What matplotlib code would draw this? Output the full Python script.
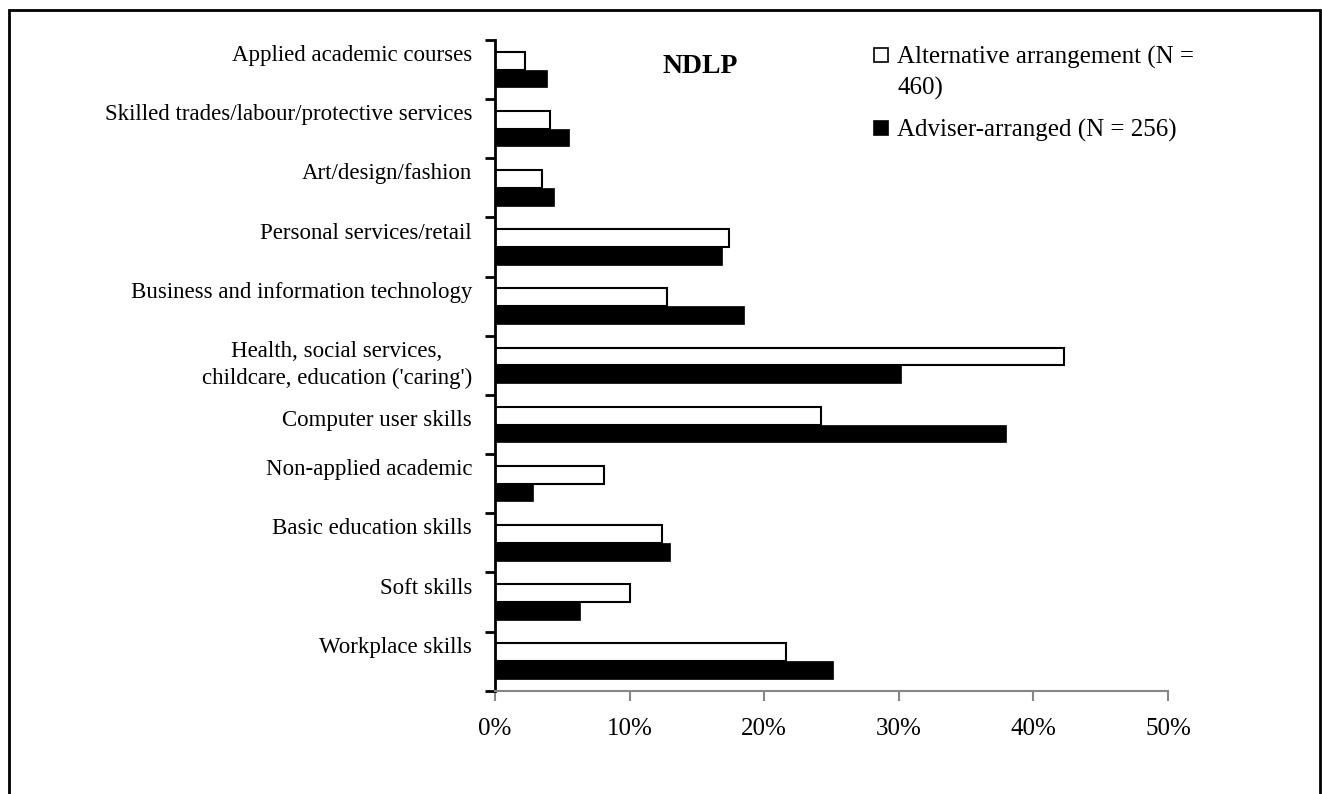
import matplotlib.pyplot as plt
import numpy as np
from matplotlib.patches import Rectangle

plt.rcParams['font.family'] = ['Liberation Serif', 'DejaVu Serif']

# bottom to top
categories = ["Workplace skills", "Soft skills", "Basic education skills",
              "Non-applied academic", "Computer user skills",
              "Health, social services,\nchildcare, education ('caring')",
              "Business and information technology", "Personal services/retail",
              "Art/design/fashion", "Skilled trades/labour/protective services",
              "Applied academic courses"]
alternative = [21.6, 10.0, 12.4, 8.1, 24.2, 42.3, 12.8, 17.4, 3.5, 4.1, 2.2]
adviser = [25.1, 6.3, 13.0, 2.8, 38.0, 30.2, 18.5, 16.9, 4.4, 5.5, 3.9]
xticks = [0, 10, 20, 30, 40, 50]
labels = ["Alternative arrangement (N =\n460)", "Adviser-arranged (N = 256)"]
label_shift = [10, 10, 10, 10, 3, 0, 10, 10, 10, 10, 10]  # points up from centre


def main():
    W, H = 1322, 794
    fig = plt.figure(figsize=(W / 100, H / 100), dpi=100)
    ax = fig.add_axes([495 / W, 1 - 690.7 / H, 673 / W, 650.7 / H])
    y = np.arange(len(categories))
    h = 0.3
    ax.barh(y + h / 2, alternative, height=h, color='white', edgecolor='black', linewidth=1.5)
    ax.barh(y - h / 2, adviser, height=h, color='black', edgecolor='black', linewidth=0.5)

    ax.set_xlim(0, 50)
    ax.set_ylim(-0.5, len(categories) - 0.5)
    ax.set_xticks(xticks)
    ax.set_xticklabels([f"{t}%" for t in xticks], fontsize=18)
    ax.set_yticks(np.arange(len(categories) + 1) - 0.5)
    ax.set_yticklabels([])
    ax.tick_params(axis='y', length=7, width=2, color='black')
    ax.tick_params(axis='x', length=7, width=1.5, color='#868686', pad=13)

    for yi, cat, dy in zip(y, categories, label_shift):
        ax.annotate(cat, xy=(0, yi), xycoords=('axes fraction', 'data'),
                    xytext=(-16.5, dy), textcoords='offset points',
                    ha='right', va='center', multialignment='center',
                    fontsize=16.5, linespacing=1.35)

    for s in ['top', 'right']:
        ax.spines[s].set_visible(False)
    ax.spines['left'].set_linewidth(2)
    ax.spines['bottom'].set_color('#868686')
    ax.spines['bottom'].set_linewidth(1.5)

    ax.text(0.305, 0.96, "NDLP", transform=ax.transAxes, fontsize=20,
            fontweight='bold', ha='center', va='center')

    # legend, drawn by hand so the swatch sits on the first line of a wrapped label
    for (ty, lab, fc) in [(55, labels[0], 'white'), (128, labels[1], 'black')]:
        fig.add_artist(Rectangle((874 / W, 1 - (ty + 7) / H), 14 / W, 14 / H,
                                 transform=fig.transFigure, facecolor=fc,
                                 edgecolor='black', linewidth=1.2))
        fig.text(897 / W, 1 - (ty - 8.7) / H, lab, fontsize=18, ha='left',
                 va='top', linespacing=1.43)

    fig.add_artist(Rectangle((9 / W, -0.1), 1311 / W, 1.1 - 10 / H,
                             transform=fig.transFigure, fill=False,
                             edgecolor='black', linewidth=2))
    fig.savefig("out.png", dpi=100)


if __name__ == "__main__":
    main()
